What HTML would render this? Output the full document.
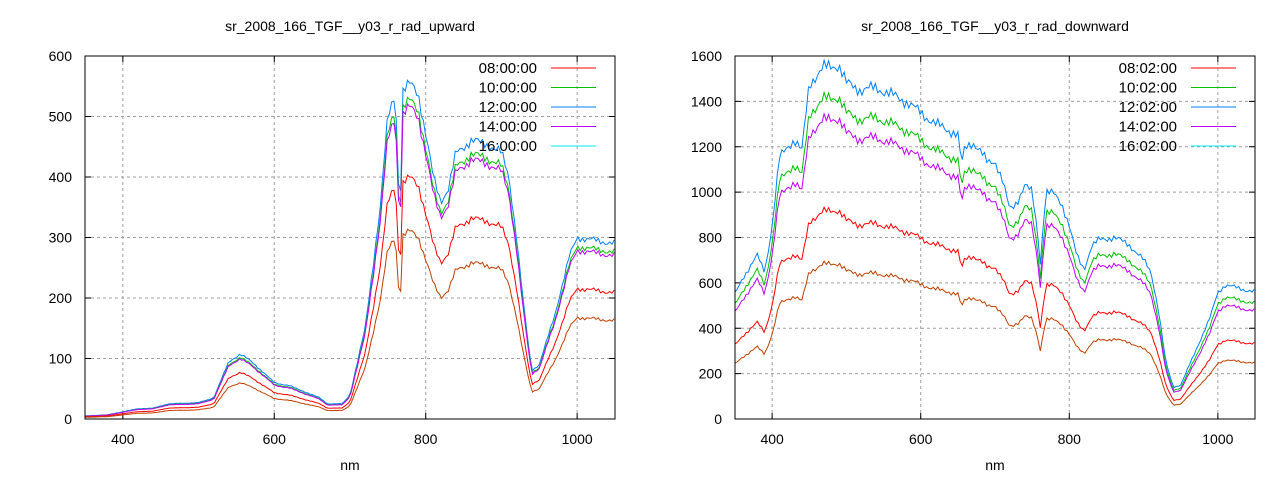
<!DOCTYPE html><html><head><meta charset="utf-8"><style>body{margin:0;background:#fff}svg{display:block}text{font-family:"Liberation Sans",sans-serif;font-size:14px;fill:#000}</style></head><body>
<svg id="s" width="1280" height="480" xmlns="http://www.w3.org/2000/svg"></svg>
<script>
const S=document.getElementById('s');let h='';
const cols=['#ff0000','#00c000','#0080ff','#c000ff','#00eeee'];
const draw=['#0080ff','#00c000','#c000ff','#ff0000','#c04000'];
function interp(k,x){for(let i=0;i<k.length-1;i++){if(x<=k[i+1][0]){const t=(x-k[i][0])/(k[i+1][0]-k[i][0]);return k[i][1]+(k[i+1][1]-k[i][1])*t;}}return k[k.length-1][1];}
function plot(o){const{x0,x1,y0,y1,ymax,ystep,title,keys,scales,labels}=o;
const X=v=>x0+(v-350)/700*(x1-x0),Y=v=>y1-v/ymax*(y1-y0);
for(let v=400;v<=1000;v+=200){h+=`<line x1="${X(v)}" y1="${y0}" x2="${X(v)}" y2="${y1}" stroke="#a0a0a0" stroke-dasharray="3,3"/>`;h+=`<text x="${X(v)}" y="${y1+25}" text-anchor="middle">${v}</text>`;h+=`<line x1="${X(v)}" y1="${y1}" x2="${X(v)}" y2="${y1-6}" stroke="#000"/><line x1="${X(v)}" y1="${y0}" x2="${X(v)}" y2="${y0+6}" stroke="#000"/>`;}
for(let v=0;v<=ymax;v+=ystep){h+=`<line x1="${x0}" y1="${Y(v)}" x2="${x1}" y2="${Y(v)}" stroke="#a0a0a0" stroke-dasharray="3,3"/>`;h+=`<text x="${x0-13}" y="${Y(v)+5}" text-anchor="end">${v}</text>`;h+=`<line x1="${x0}" y1="${Y(v)}" x2="${x0+6}" y2="${Y(v)}" stroke="#000"/><line x1="${x1}" y1="${Y(v)}" x2="${x1-6}" y2="${Y(v)}" stroke="#000"/>`;}
scales.forEach((sc,i)=>{let p=[];for(let w=350;w<=1050;w+=3){let n=Math.sin(w*0.9)*0.012+Math.sin(w*2.3+1)*0.01;let v=interp(keys,w)*sc*(1+n);p.push(X(w).toFixed(1)+','+Y(v).toFixed(1));}
h+=`<polyline points="${p.join(' ')}" fill="none" stroke="${draw[i]}" stroke-width="1"/>`;});
h+=`<rect x="${x0}" y="${y0}" width="${x1-x0}" height="${y1-y0}" fill="none" stroke="#000"/>`;
labels.forEach((l,i)=>{const yy=y0+12+i*19.5;h+=`<text x="${x1-78}" y="${yy+5}" text-anchor="end" style="font-size:15px">${l}</text><line x1="${x1-64}" y1="${yy}" x2="${x1-19}" y2="${yy}" stroke="${cols[i]}"/>`;});
h+=`<text x="${(x0+x1)/2}" y="31" text-anchor="middle">${title}</text><text x="${(x0+x1)/2}" y="470" text-anchor="middle">nm</text>`;}
const up=[[350,5],[380,7],[400,12],[420,17],[440,18],[460,25],[500,27],[520,35],[540,95],[555,107],[570,95],[600,60],[620,55],[640,45],[660,35],[670,25],[690,25],[700,40],[720,150],[740,350],[750,500],[760,540],[763,420],[766,330],[770,540],[780,555],[790,540],[800,470],[810,400],[820,360],[830,380],[840,440],[860,460],[880,455],[900,440],[910,400],[920,300],[930,180],[940,80],[950,90],[970,170],[990,270],[1000,300],[1050,290]];
const dn=[[350,550],[360,620],[380,720],[390,650],[400,850],[410,1150],[420,1200],[430,1230],[440,1180],[450,1480],[470,1550],[490,1560],[500,1480],[520,1450],[540,1460],[560,1430],[580,1400],[600,1350],[620,1300],[640,1270],[650,1250],[655,1120],[660,1200],[670,1220],[680,1180],[690,1130],[700,1140],[710,1050],[720,920],[730,960],[740,1030],[750,1000],[758,800],[762,650],[765,900],[770,1000],[780,990],[790,950],[800,850],[810,720],[820,660],[830,760],[840,790],[860,800],[880,770],[900,700],[910,650],[920,480],[930,250],[940,140],[950,150],[970,300],[990,450],[1000,560],[1010,590],[1050,560]];
plot({x0:85,x1:615,y0:56,y1:419,ymax:600,ystep:100,title:'sr_2008_166_TGF__y03_r_rad_upward',keys:up,scales:[1,0.95,0.93,0.72,0.56],labels:['08:00:00','10:00:00','12:00:00','14:00:00','16:00:00']});
plot({x0:735,x1:1255,y0:56,y1:419,ymax:1600,ystep:200,title:'sr_2008_166_TGF__y03_r_rad_downward',keys:dn,scales:[1,0.91,0.85,0.59,0.44],labels:['08:02:00','10:02:00','12:02:00','14:02:00','16:02:00']});
S.innerHTML=h;
</script></body></html>
